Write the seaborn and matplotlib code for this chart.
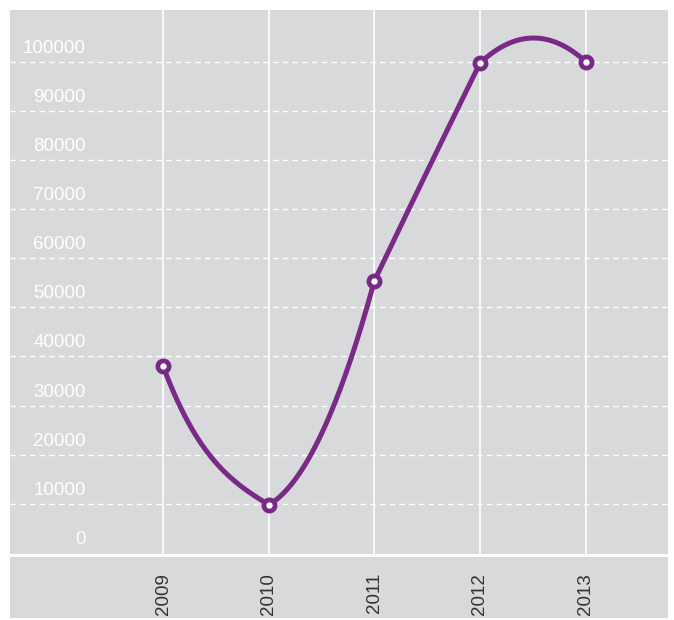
import numpy as np
import pandas as pd
import matplotlib
matplotlib.use("Agg")
import matplotlib.pyplot as plt
import matplotlib.transforms as mtransforms
from matplotlib.patches import Rectangle
import seaborn as sns

# data
years = [2009, 2010, 2011, 2012, 2013]
values = [38000, 9800, 55400, 99700, 100000]
y_ticks = [0, 10000, 20000, 30000, 40000, 50000, 60000, 70000, 80000, 90000, 100000]

PANEL = "#d8d9db"
PURPLE = "#782a86"


def smooth_segments(x, y, k=0.45, n=60):
    # each segment is a cubic; its end slopes are the segment's chord slope
    # tilted by part of the change from the neighbouring chord (gives the
    # slightly "kinked" hand-smoothed look of the original)
    x = np.asarray(x, float)
    y = np.asarray(y, float)
    h = np.diff(x)
    c = np.diff(y) / h
    xs, ys = [], []
    for i in range(len(h)):
        if i == 0:
            d = 0.4 * (c[1] - c[0])
            m0, m1 = c[0] - d, c[0] + d / 2
        else:
            d = k * (c[i] - c[i - 1])
            m0, m1 = c[i] - d, c[i] + d
        t = np.linspace(0, 1, n)
        if i > 0:
            t = t[1:]
        h00 = 2 * t ** 3 - 3 * t ** 2 + 1
        h10 = t ** 3 - 2 * t ** 2 + t
        h01 = -2 * t ** 3 + 3 * t ** 2
        h11 = t ** 3 - t ** 2
        xs.append(x[i] + t * h[i])
        ys.append(h00 * y[i] + h10 * h[i] * m0 + h01 * y[i + 1] + h11 * h[i] * m1)
    return np.concatenate(xs), np.concatenate(ys)


sns.set_theme(style="dark")
plt.rcParams["font.family"] = ["Liberation Sans", "DejaVu Sans"]

fig = plt.figure(figsize=(6.74, 6.2), dpi=100)
fig.patch.set_facecolor("white")
bg = Rectangle((10 / 674, 2 / 620), 658 / 674, 608 / 620,
               transform=fig.transFigure, facecolor=PANEL,
               edgecolor="none", zorder=-10)
fig.patches.append(bg)

ax = fig.add_axes([10 / 674, 65 / 620, 658 / 674, 545 / 620])
ax.set_facecolor(PANEL)

sx, sy = smooth_segments(years, values)
curve = pd.DataFrame({"year": sx, "value": sy})
points = pd.DataFrame({"year": years, "value": values})

sns.lineplot(data=curve, x="year", y="value", ax=ax, color=PURPLE,
             linewidth=3.6, sort=False, zorder=3)
sns.scatterplot(data=points, x="year", y="value", ax=ax, s=65,
                color="white", edgecolor=PURPLE, linewidth=3.4, zorder=4)

ax.set_xlim(2007.55, 2013.78)
ax.set_ylim(-400, 110500)

# grid
for yy in y_ticks[1:]:
    ax.axhline(yy, color="white", lw=1.0, ls=(0, (4, 3)), zorder=1)
for xx in years:
    ax.axvline(xx, color="white", lw=1.2, zorder=1)

# y labels sit inside the plot, just above their gridline
trans = mtransforms.blended_transform_factory(ax.transAxes, ax.transData)
offset = mtransforms.offset_copy(trans, fig=fig, y=5, units="dots")
for yy in y_ticks:
    ax.text(76 / 658, yy, f"{yy}", transform=offset, ha="right", va="bottom",
            color="white", fontsize=13.5)

ax.set_yticks([])
ax.set_xticks(years)
ax.set_xticklabels([str(y) for y in years], rotation=90, fontsize=13.5,
                   color="#333333", va="top")
ax.tick_params(axis="x", length=0, pad=13)
ax.set_xlabel("")
ax.set_ylabel("")

for side in ["top", "left", "right"]:
    ax.spines[side].set_visible(False)
ax.spines["bottom"].set_color("white")
ax.spines["bottom"].set_linewidth(2.2)

fig.savefig("out.png", dpi=100)
